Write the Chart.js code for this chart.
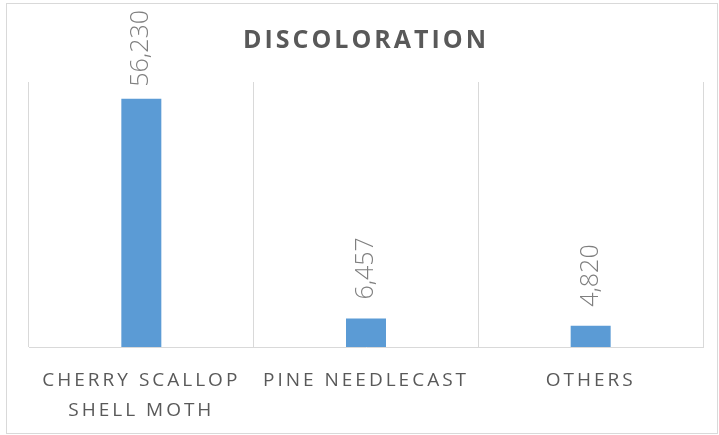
<!DOCTYPE html>
<html>
<head>
<meta charset="utf-8">
<script src="https://cdn.jsdelivr.net/npm/chart.js@4/dist/chart.umd.min.js"></script>
<style>
  html, body { margin: 0; padding: 0; background: #ffffff; }
  canvas { display: block; }
</style>
</head>
<body>
<canvas id="chart" width="719" height="435"></canvas>
<script>
// Damage causes and the number of trees affected
const categories = [['CHERRY SCALLOP', 'SHELL MOTH'], 'PINE NEEDLECAST', 'OTHERS'];
const counts = [56230, 6457, 4820];
const chartTitle = 'DISCOLORATION';

const numberFormat = new Intl.NumberFormat('en-US');

// Light frame round the whole chart, plus spaced-out lettering for the axis text
const framePlugin = {
  id: 'frame',
  beforeDraw(chart) {
    const ctx = chart.ctx;
    ctx.save();
    ctx.strokeStyle = '#d9d9d9';
    ctx.lineWidth = 1;
    ctx.strokeRect(6.5, 3.5, chart.width - 8, chart.height - 5);
    ctx.restore();
    ctx.letterSpacing = '3px';
  }
};

// Rotated value labels above each bar, kept inside the frame
const valueLabels = {
  id: 'valueLabels',
  afterDatasetsDraw(chart) {
    const ctx = chart.ctx;
    const meta = chart.getDatasetMeta(0);
    ctx.save();
    ctx.letterSpacing = '0px';
    ctx.font = '300 25px "Open Sans", sans-serif';
    ctx.fillStyle = '#7f7f7f';
    ctx.textAlign = 'left';
    ctx.textBaseline = 'middle';
    meta.data.forEach((bar, i) => {
      const text = numberFormat.format(counts[i]);
      const len = ctx.measureText(text).width;
      let start = bar.y - 19;
      if (start - len < 10) start = 10 + len;
      ctx.save();
      ctx.translate(bar.x, start);
      ctx.rotate(-Math.PI / 2);
      ctx.fillText(text, 0, 0);
      ctx.restore();
    });
    ctx.restore();
  }
};

new Chart(document.getElementById('chart'), {
  type: 'bar',
  data: {
    labels: categories,
    datasets: [{
      data: counts,
      backgroundColor: '#5b9bd5',
      borderWidth: 0,
      barPercentage: 0.178,
      categoryPercentage: 1
    }]
  },
  options: {
    responsive: false,
    animation: false,
    devicePixelRatio: 1,
    layout: { padding: { left: 29, right: 16, top: 0, bottom: -9 } },
    plugins: {
      legend: { display: false },
      tooltip: { enabled: false },
      title: {
        display: true,
        text: chartTitle,
        color: '#595959',
        font: { family: '"Open Sans", sans-serif', size: 25, weight: 'bold', lineHeight: 1.2 },
        padding: { top: 26, bottom: 26 }
      }
    },
    scales: {
      x: {
        grid: {
          offset: true,
          color: '#d9d9d9',
          lineWidth: 1,
          drawTicks: false
        },
        border: { display: true, color: '#d9d9d9', width: 1 },
        ticks: {
          color: '#595959',
          font: { family: '"Open Sans", sans-serif', size: 19, lineHeight: 1.55 },
          padding: 19,
          maxRotation: 0,
          autoSkip: false
        }
      },
      y: {
        display: false,
        min: 0,
        max: 60000
      }
    }
  },
  plugins: [framePlugin, valueLabels]
});
</script>
</body>
</html>
